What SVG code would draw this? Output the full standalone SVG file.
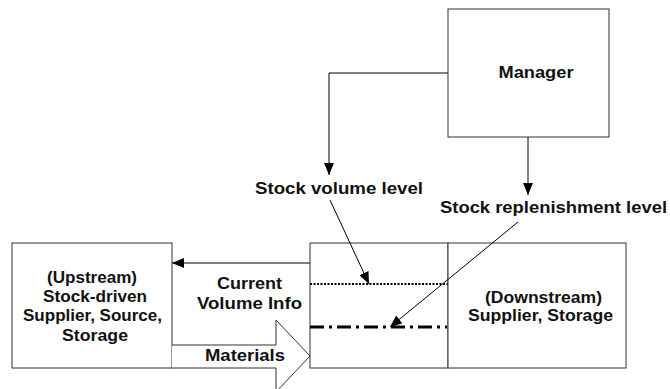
<svg xmlns="http://www.w3.org/2000/svg" width="670" height="389" viewBox="0 0 670 389">
<defs>
<marker id="ah" markerWidth="12" markerHeight="10" refX="12" refY="5" orient="auto" markerUnits="userSpaceOnUse">
<path d="M0,0 L12,5 L0,10 Z" fill="#000"/>
</marker>
<style>
.box{fill:#fff;stroke:#333;stroke-width:1}
.t{font-family:"Liberation Sans",Arial,sans-serif;font-weight:bold;font-size:16px;fill:#111;text-anchor:middle}
.c{fill:none;stroke:#000;stroke-width:1}
</style>
</defs>
<rect width="670" height="389" fill="#fff"/>
<g id="manager">
<rect class="box" x="448" y="9" width="161" height="128"/>
<text class="t" x="536" y="78" textLength="75" lengthAdjust="spacingAndGlyphs">Manager</text>
</g>
<g id="upstream">
<rect class="box" x="12" y="243" width="160" height="125"/>
<text class="t" x="92" y="283" textLength="90" lengthAdjust="spacingAndGlyphs">(Upstream)</text>
<text class="t" x="95" y="302" textLength="104" lengthAdjust="spacingAndGlyphs">Stock-driven</text>
<text class="t" x="92.5" y="321" textLength="139" lengthAdjust="spacingAndGlyphs">Supplier, Source,</text>
<text class="t" x="95" y="341" textLength="66" lengthAdjust="spacingAndGlyphs">Storage</text>
</g>
<g id="buffer">
<rect class="box" x="310" y="243" width="138" height="125"/>
<line x1="310" y1="284" x2="448" y2="284" stroke="#000" stroke-width="2" stroke-dasharray="2,1.5"/>
<line x1="310" y1="327" x2="447" y2="327" stroke="#000" stroke-width="3" stroke-dasharray="14,5,3,5"/>
</g>
<g id="downstream">
<rect class="box" x="448" y="243" width="178" height="125"/>
<text class="t" x="543.5" y="303" textLength="117" lengthAdjust="spacingAndGlyphs">(Downstream)</text>
<text class="t" x="540.5" y="321" textLength="145" lengthAdjust="spacingAndGlyphs">Supplier, Storage</text>
</g>
<g id="labels">
<text class="t" x="339" y="194" textLength="168" lengthAdjust="spacingAndGlyphs">Stock volume level</text>
<text class="t" x="553.5" y="213" textLength="227" lengthAdjust="spacingAndGlyphs">Stock replenishment level</text>
<text class="t" x="249.5" y="289" textLength="65" lengthAdjust="spacingAndGlyphs">Current</text>
<text class="t" x="249.5" y="309" textLength="105" lengthAdjust="spacingAndGlyphs">Volume Info</text>
</g>
<g id="connectors">
<polyline class="c" points="448,73 329,73 329,175" marker-end="url(#ah)"/>
<line class="c" x1="528" y1="137" x2="528" y2="195" marker-end="url(#ah)"/>
<line class="c" x1="310" y1="263" x2="172" y2="263" marker-end="url(#ah)"/>
<line class="c" x1="330" y1="200" x2="369" y2="284" marker-end="url(#ah)"/>
<line class="c" x1="518" y1="222" x2="390" y2="327" marker-end="url(#ah)"/>
<path d="M172,345 L276,345 L276,320 L310,356 L276,392 L276,368 L172,368" fill="#fff" stroke="#333" stroke-width="1"/>
<text class="t" x="245" y="361" textLength="80" lengthAdjust="spacingAndGlyphs">Materials</text>
</g>
</svg>
